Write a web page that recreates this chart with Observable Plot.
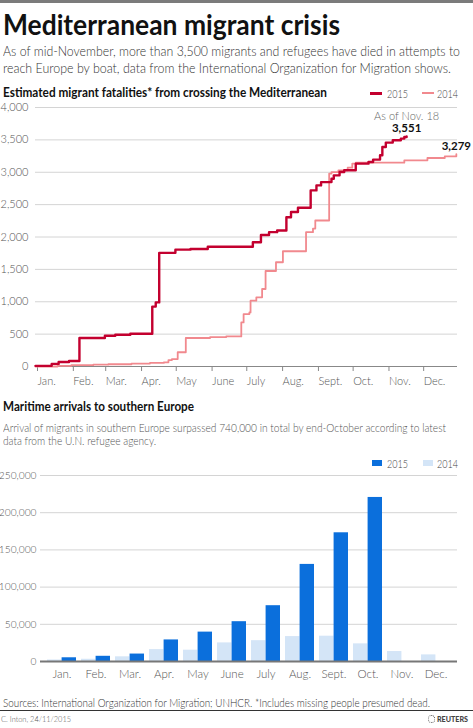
<!DOCTYPE html>
<html><head><meta charset="utf-8">
<script src="https://cdn.jsdelivr.net/npm/d3@7"></script>
<script src="https://cdn.jsdelivr.net/npm/@observablehq/plot@0.6"></script>
<style>
body{margin:0;background:#fff;font-family:Lato,"Noto Sans",sans-serif;}
#page{position:relative;width:473px;height:728px;overflow:hidden;background:#fff;}
.abs{position:absolute;white-space:nowrap;line-height:1;}
</style></head><body><div id="page"></div>
<script>
// ---------- DATA ----------
const dates2015 = ["01-01","01-15","01-21","01-30","02-08","03-02","03-11","03-24","04-12","04-15","04-18","05-02","05-15","05-30","07-08","07-15","07-22","07-29","08-06","08-10","08-16","08-27","09-01","09-05","09-14","09-16","09-21","09-25","10-05","10-16","10-20","10-26","10-28","10-31","11-06","11-13","11-16","11-18"];
const deaths2015 = [10,40,70,85,440,475,490,505,925,990,1755,1805,1815,1850,1920,2030,2075,2100,2306,2385,2452,2720,2797,2848,2900,2952,3003,3030,3133,3158,3195,3262,3390,3458,3494,3520,3545,3551];
const dates2014 = ["01-01","01-20","02-01","02-20","03-05","03-25","04-10","04-22","04-26","04-29","05-04","05-11","06-01","06-15","06-28","06-30","07-05","07-06","07-11","07-16","07-19","07-28","08-03","08-23","08-29","08-31","09-12","09-14","09-20","09-28","10-02","10-05","11-16","12-06","12-21","12-31"];
const deaths2014 = [0,10,20,28,35,45,55,65,100,115,220,440,455,465,680,810,835,1017,1068,1197,1475,1610,1780,2075,2130,2255,2980,3003,3030,3070,3133,3148,3184,3220,3246,3279];
const monthLabels = ["Jan.","Feb.","Mar.","Apr.","May","June","July","Aug.","Sept.","Oct.","Nov.","Dec."];
const yTicks1 = [0,500,1000,1500,2000,2500,3000,3500,4000];
const arrivals2015 = [5000,7000,10000,29000,39500,53500,75000,130500,173000,220500,null,null];
const arrivals2014 = [2000,3000,6300,16000,15200,25000,28000,33500,34000,23700,13400,8900];
const yTicks2 = [0,50000,100000,150000,200000,250000];
const seriesNames = ["2015","2014"];
const annotNote = "As of Nov. 18";

// ---------- STYLE ----------
const red15 = "#c3002f", pink14 = "#f1898e";
const blue15 = "#0b6fdc", blue14 = "#d4e5f7";
const FONT = "Lato, 'Noto Sans', sans-serif";

const page = document.getElementById("page");
function addDiv(html, css, fitW) {
  const d = document.createElement("div");
  d.className = "abs";
  d.innerHTML = html;
  Object.assign(d.style, css);
  page.appendChild(d);
  if (fitW) {
    const w = d.getBoundingClientRect().width;
    if (w > 0) { d.style.transformOrigin = "0 0"; d.style.transform = `scaleX(${fitW / w})`; }
  }
  return d;
}
function swatch(x, y, w, h, color) {
  addDiv("", {left: x + "px", top: y + "px", width: w + "px", height: h + "px", background: color});
}

// top stripe
swatch(0, 0, 473, 3, "#7b7b7b");
addDiv("Mediterranean migrant crisis", {left:"3px", top:"9px", fontSize:"29px", fontWeight:"700", color:"#111"}, 337);
addDiv("As of mid-November, more than 3,500 migrants and refugees have died in attempts to", {left:"3px", top:"44px", fontSize:"14px", fontWeight:"300", color:"#333"}, 457);
addDiv("reach Europe by boat, data from the International Organization for Migration shows.", {left:"3px", top:"61px", fontSize:"14px", fontWeight:"300", color:"#333"}, 448);
addDiv("Estimated migrant fatalities* from crossing the Mediterranean", {left:"3px", top:"87px", fontSize:"12.6px", fontWeight:"700", color:"#111"}, 324);
// legend 1
swatch(370, 92, 12, 3, red15);
addDiv(seriesNames[0], {left:"387px", top:"88px", fontSize:"11px", fontWeight:"300", color:"#444"}, 21);
swatch(422, 92, 12, 2, pink14);
addDiv(seriesNames[1], {left:"437px", top:"88px", fontSize:"11px", fontWeight:"300", color:"#444"}, 21);

// ---------- CHART 1 ----------
const toDate = s => { const [m,d] = s.split("-").map(Number); return new Date(Date.UTC(2015, m-1, d)); };
const data15 = dates2015.map((s,i) => ({date: toDate(s), value: deaths2015[i]}));
const data14 = dates2014.map((s,i) => ({date: toDate(s), value: deaths2014[i]}));
const monthStarts = d3.range(12).map(m => new Date(Date.UTC(2015, m, 1)));
const end15 = data15[data15.length-1];
const end14 = data14[data14.length-1];

const chart1 = Plot.plot({
  width: 473, height: 300,
  marginTop: 7, marginBottom: 34, marginLeft: 35, marginRight: 16,
  style: {fontFamily: FONT, fontSize: "11px", color: "#555", background: "transparent", overflow: "visible"},
  x: {type: "utc", domain: [new Date(Date.UTC(2015,0,1)), new Date(Date.UTC(2016,0,1))], label: null},
  y: {domain: [0, 4000], label: null},
  marks: [
    Plot.ruleY(yTicks1.filter(d => d > 0), {stroke: "#d4d4d4", strokeWidth: 1}),
    Plot.axisY({ticks: yTicks1, tickSize: 0, tickPadding: 7, tickFormat: d3.format(","), fill: "#555", fontWeight: 300, label: null}),
    Plot.ruleY([0], {stroke: "#888"}),
    Plot.axisX({ticks: monthStarts, tickSize: 5, tickPadding: 6, stroke: "#888", fill: "#555", fontWeight: 300,
      tickFormat: d => monthLabels[d.getUTCMonth()], textAnchor: "start", dx: 2, label: null}),
    Plot.line(data14, {x: "date", y: "value", curve: "step-after", stroke: pink14, strokeWidth: 1.8}),
    Plot.line(data15, {x: "date", y: "value", curve: "step-after", stroke: red15, strokeWidth: 2.4}),
    Plot.text([end15], {x: "date", y: "value", text: () => annotNote, dy: -20, fill: "#666", fontSize: 11, fontWeight: 300}),
    Plot.text([end15], {x: "date", y: "value", text: d => d3.format(",")(d.value), dy: -8, fill: "#111", fontSize: 11.5, fontWeight: "bold"}),
    Plot.text([end14], {x: "date", y: "value", text: d => d3.format(",")(d.value), dy: -8, fill: "#111", fontSize: 11.5, fontWeight: "bold"})
  ]
});
const w1 = document.createElement("div");
w1.style.cssText = "position:absolute;left:0;top:100px;";
w1.appendChild(chart1);
page.appendChild(w1);

// ---------- SECTION 2 TEXT ----------
addDiv("Maritime arrivals to southern Europe", {left:"3px", top:"400px", fontSize:"12.8px", fontWeight:"700", color:"#111"}, 191);
addDiv("Arrival of migrants in southern Europe surpassed 740,000 in total by end-October according to latest", {left:"3px", top:"422px", fontSize:"11.2px", fontWeight:"300", color:"#555"}, 443);
addDiv("data from the U.N. refugee agency.", {left:"3px", top:"435px", fontSize:"11.2px", fontWeight:"300", color:"#555"}, 153);
// legend 2
swatch(372, 460, 10, 6, blue15);
addDiv(seriesNames[0], {left:"387px", top:"458px", fontSize:"11px", fontWeight:"300", color:"#444"}, 21);
swatch(423, 460, 10, 6, blue14);
addDiv(seriesNames[1], {left:"437px", top:"458px", fontSize:"11px", fontWeight:"300", color:"#444"}, 21);

// ---------- CHART 2 ----------
const bars = [];
monthLabels.forEach((m,i) => {
  bars.push({month: m, year: "2014", value: arrivals2014[i]});
  if (arrivals2015[i] != null) bars.push({month: m, year: "2015", value: arrivals2015[i]});
});
const W2 = 473, ML2 = 40, MR2 = 16, PI = 0.16, PO = 0.08;
const step2 = (W2 - ML2 - MR2) / (12 - PI + 2 * PO);
const half = step2 * (1 - PI) / 2;

const chart2 = Plot.plot({
  width: W2, height: 215,
  marginTop: 5, marginBottom: 24, marginLeft: ML2, marginRight: MR2,
  style: {fontFamily: FONT, fontSize: "10.2px", color: "#555", background: "transparent", overflow: "visible"},
  x: {domain: monthLabels, paddingInner: PI, paddingOuter: PO, label: null},
  y: {domain: [0, 250000], label: null},
  marks: [
    Plot.ruleY(yTicks2.filter(d => d > 0), {stroke: "#d4d4d4"}),
    Plot.axisY({ticks: yTicks2, tickSize: 0, tickPadding: 4, tickFormat: d3.format(","), fill: "#555", fontWeight: 300, label: null}),
    Plot.barY(bars.filter(d => d.year === "2014"), {x: "month", y: "value", fill: blue14, insetRight: half}),
    Plot.barY(bars.filter(d => d.year === "2015"), {x: "month", y: "value", fill: blue15, insetLeft: half}),
    Plot.ruleY([0], {stroke: "#777", strokeWidth: 2}),
    Plot.axisX({tickSize: 0, tickPadding: 8, fill: "#555", fontWeight: 300, label: null, fontSize: 11.5})
  ]
});
const w2 = document.createElement("div");
w2.style.cssText = "position:absolute;left:0;top:470px;";
w2.appendChild(chart2);
page.appendChild(w2);

// ---------- FOOTER ----------
addDiv("Sources: International Organization for Migration; UNHCR. *Includes missing people presumed dead.", {left:"3px", top:"697px", fontSize:"11.5px", fontWeight:"300", color:"#333"}, 427);
swatch(0, 710, 473, 1, "#333");
addDiv("C. Inton, 24/11/2015", {left:"1px", top:"715px", fontSize:"8.5px", fontWeight:"300", color:"#555"}, 70);
addDiv(`<span style="display:inline-block;width:8px;height:8px;border:1.5px dotted #555;border-radius:50%;vertical-align:middle;box-sizing:border-box"></span><span style="margin-left:2px;vertical-align:middle">REUTERS</span>`,
  {left:"428px", top:"714px", fontSize:"8px", fontWeight:"900", color:"#444"}, 40);
</script></body></html>
